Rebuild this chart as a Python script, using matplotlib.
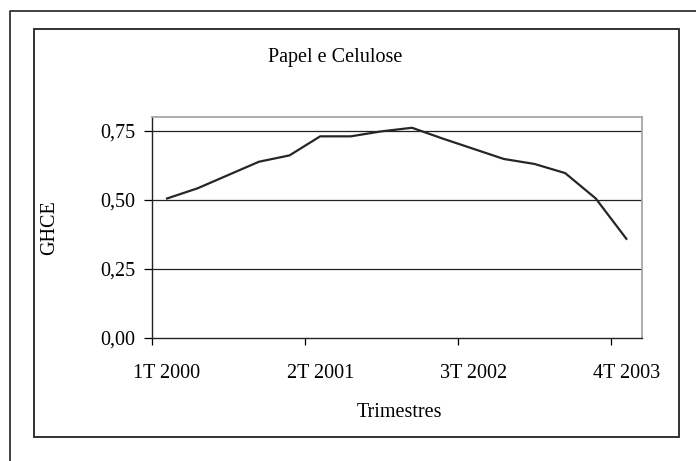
"""GHCE trimestral - Papel e Celulose."""
import matplotlib
matplotlib.use("Agg")
import matplotlib.pyplot as plt
from matplotlib.lines import Line2D
from matplotlib.patches import Rectangle

quarters = [f"{q}T {y}" for y in range(2000, 2004) for q in range(1, 5)]
ghce = [0.505, 0.542, 0.590, 0.638, 0.661, 0.730, 0.730, 0.748,
        0.761, 0.722, 0.685, 0.648, 0.630, 0.597, 0.505, 0.359]
y_ticks = [0.0, 0.25, 0.5, 0.75]
y_ticklabels = ["0,00", "0,25", "0,50", "0,75"]
label_every = 5

plt.rcParams["font.family"] = ["Liberation Serif", "DejaVu Serif"]
plt.rcParams["font.size"] = 14.5

W, H = 696, 461
fig = plt.figure(figsize=(W / 100, H / 100), dpi=100)

# outer frame (open on the right and bottom) and inner box
fig.add_artist(Line2D([10 / W, 10 / W, 1], [0, 1 - 11 / H, 1 - 11 / H],
                      transform=fig.transFigure, color="#333333", lw=1.3))
fig.add_artist(Rectangle((34 / W, 1 - 437 / H), 645 / W, 408 / H,
                         transform=fig.transFigure, fill=False,
                         edgecolor="#222222", lw=1.3))

ax = fig.add_axes([151.7 / W, 1 - 338 / H, 490 / W, 221 / H])
x = list(range(len(quarters)))
ax.plot(x, ghce, color="#262626", lw=1.6, zorder=3)

ax.set_xlim(-0.5, len(quarters) - 0.5)
ax.set_ylim(0, 0.8)

for v in y_ticks[1:]:
    ax.axhline(v, color="#222222", lw=0.9, zorder=1)

ax.set_yticks(y_ticks)
ax.set_yticklabels(y_ticklabels)
ax.tick_params(axis="y", direction="out", length=6, width=0.9, pad=5.5)

# tick marks between categories, labels centred on categories
ax.set_xticks([i - 0.5 for i in x[::label_every]])
ax.set_xticklabels([])
ax.tick_params(axis="x", which="major", direction="out", length=5, width=0.9)
ax.set_xticks(x[::label_every], minor=True)
ax.set_xticklabels(quarters[::label_every], minor=True)
ax.tick_params(axis="x", which="minor", length=0, pad=18.5)

for s in ["left", "bottom"]:
    ax.spines[s].set_color("#222222")
    ax.spines[s].set_linewidth(1.0)
for s in ["top", "right"]:
    ax.spines[s].set_color("#a0a0a0")
    ax.spines[s].set_linewidth(1.2)

fig.text(335 / W, 1 - 62 / H, "Papel e Celulose", ha="center", va="baseline")
fig.text(399.5 / W, 1 - 417 / H, "Trimestres", ha="center", va="baseline")
fig.text(50 / W, 1 - 228 / H, "GHCE", rotation=90, ha="center", va="center")

fig.savefig("out.png", dpi=100)
plt.close(fig)
